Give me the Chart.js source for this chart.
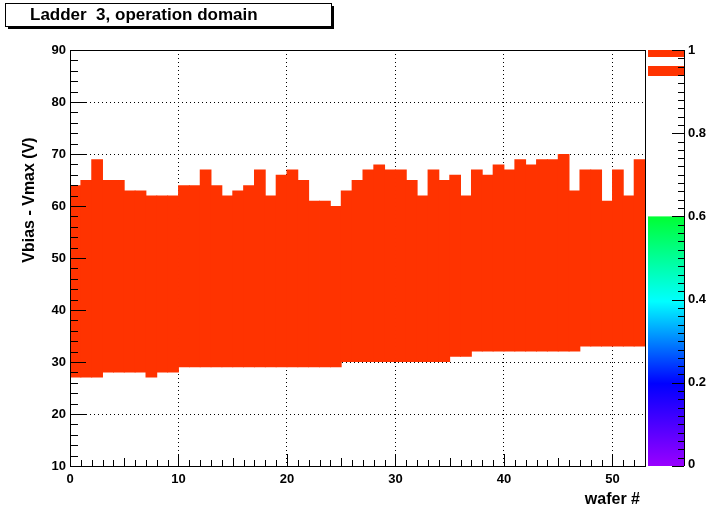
<!DOCTYPE html>
<html>
<head>
<script src="https://cdn.jsdelivr.net/npm/chart.js@4"></script>
<style>body{margin:0;background:#fff}</style>
</head>
<body>
<canvas id="c" width="717" height="519"></canvas>
<script>
// Wafer operating window: lower and upper bias limits (V)
var wafers = [];
for (var i = 0; i < 53; i++) wafers.push(i);
var vLow = [27,27,27,28,28,28,28,27,28,28, 29,29,29,29,29,29,29,29,29,29, 29,29,29,29,29,30,30,30,30,30,
            30,30,30,30,30,31,31,32,32,32, 32,32,32,32,32,32,32,33,33,33, 33,33,33];
var vHigh = [64,65,69,65,65,63,63,62,62,62, 64,64,67,64,62,63,64,67,62,66, 67,65,61,61,60,63,65,67,68,67,
             67,65,62,67,65,66,62,67,66,68, 67,69,68,69,69,70,63,67,67,61, 67,62,69];
var xTicks = [0,10,20,30,40,50];
var yTicks = [10,20,30,40,50,60,70,80,90];
var zTicks = [0,0.2,0.4,0.6,0.8,1];

var points = wafers.map(function (w, i) { return {x: w + 0.5, y: [vLow[i], vHigh[i]]}; });

var font = "Liberation Sans, Arial, sans-serif";

var decor = {
    id: 'decor',
    afterDraw: function (chart) {
        var c = chart.ctx, a = chart.chartArea;
        c.save();
        // frame
        c.strokeStyle = '#000'; c.lineWidth = 1;
        c.strokeRect(a.left + 0.5, a.top + 0.5, a.right - a.left, a.bottom - a.top);
        // minor ticks
        var ys = chart.scales.y, xs = chart.scales.x;
        c.beginPath();
        for (var v = 10; v <= 90; v += 2) {
            var py = Math.round(ys.getPixelForValue(v)) + 0.5;
            var len = (v % 10 === 0) ? 16 : 8;
            c.moveTo(a.left, py); c.lineTo(a.left + len, py);
        }
        for (var x = 0; x <= 53; x++) {
            var px = Math.round(xs.getPixelForValue(x)) + 0.5;
            var l2 = (x % 10 === 0) ? 12 : (x % 5 === 0 ? 8 : 6);
            c.moveTo(px, a.bottom); c.lineTo(px, a.bottom - l2);
        }
        c.stroke();
        // title box
        c.fillStyle = '#fff';
        c.fillRect(5, 3, 327, 25);
        c.fillStyle = '#000';
        c.fillRect(8, 26, 326, 3);
        c.fillRect(331, 6, 3, 23);
        c.strokeRect(5.5, 3.5, 326, 23);
        c.font = 'bold 17px ' + font;
        c.textBaseline = 'middle';
        c.fillText('Ladder  3, operation domain', 30, 15);
        // axis titles
        c.font = 'bold 16px ' + font;
        c.textAlign = 'right';
        c.fillText('wafer #', 640, 500);
        c.save();
        c.translate(30, 200); c.rotate(-Math.PI / 2);
        c.textAlign = 'center';
        c.fillText('Vbias - Vmax (V)', 0, 0);
        c.restore();
        // colour bar
        var bx = 648, bw = 36, top = a.top, bot = a.bottom;
        var zpix = function (z) { return bot - z * (bot - top); };
        var g = c.createLinearGradient(0, bot, 0, zpix(0.6));
        g.addColorStop(0, '#9900ff'); g.addColorStop(0.33, '#0000ff');
        g.addColorStop(0.66, '#00ffff'); g.addColorStop(1, '#00ff33');
        c.fillStyle = g;
        c.fillRect(bx, zpix(0.6), bw, bot - zpix(0.6));
        c.fillStyle = '#ff3300';
        c.fillRect(bx, 66, bw, 10);
        c.fillRect(bx, top, bw, 7);
        c.strokeStyle = '#000';
        c.beginPath();
        c.moveTo(bx + bw + 0.5, top); c.lineTo(bx + bw + 0.5, bot);
        zTicks.forEach(function (z) {
            var p = Math.round(zpix(z)) + 0.5;
            c.moveTo(bx + bw - 12, p); c.lineTo(bx + bw, p);
        });
        for (var k = 0; k <= 50; k++) {
            var p2 = Math.round(zpix(k * 0.02)) + 0.5;
            c.moveTo(bx + bw - 6, p2); c.lineTo(bx + bw, p2);
        }
        c.stroke();
        c.fillStyle = '#000';
        c.font = 'bold 13px ' + font;
        c.textAlign = 'left';
        zTicks.forEach(function (z) {
            c.fillText(z === 1 ? '1' : String(z), bx + bw + 4, zpix(z) + (z === 0 ? -2 : 0));
        });
        c.restore();
    }
};

new Chart(document.getElementById('c'), {
    type: 'bar',
    data: {
        datasets: [{
            data: points,
            backgroundColor: '#ff3300',
            borderWidth: 0,
            barPercentage: 1.08,
            categoryPercentage: 1.0
        }]
    },
    options: {
        responsive: false,
        animation: false,
        layout: {padding: {top: 50, right: 72}},
        plugins: {legend: {display: false}, tooltip: {enabled: false}},
        scales: {
            x: {
                type: 'linear', min: 0, max: 53, offset: false,
                afterBuildTicks: function (s) { s.ticks = xTicks.map(function (v) { return {value: v}; }); },
                afterFit: function (s) { s.height = 53; },
                grid: {color: '#000', drawTicks: false, offset: false},
                border: {display: false, dash: [1, 3]},
                ticks: {color: '#000', font: {family: font, size: 13, weight: 'bold'}, padding: 6}
            },
            y: {
                min: 10, max: 90,
                afterBuildTicks: function (s) { s.ticks = yTicks.map(function (v) { return {value: v}; }); },
                afterFit: function (s) { s.width = 70; },
                grid: {color: '#000', drawTicks: false},
                border: {display: false, dash: [1, 3]},
                ticks: {color: '#000', font: {family: font, size: 13, weight: 'bold'}, padding: 4}
            }
        }
    },
    plugins: [decor]
});
</script>
</body>
</html>
